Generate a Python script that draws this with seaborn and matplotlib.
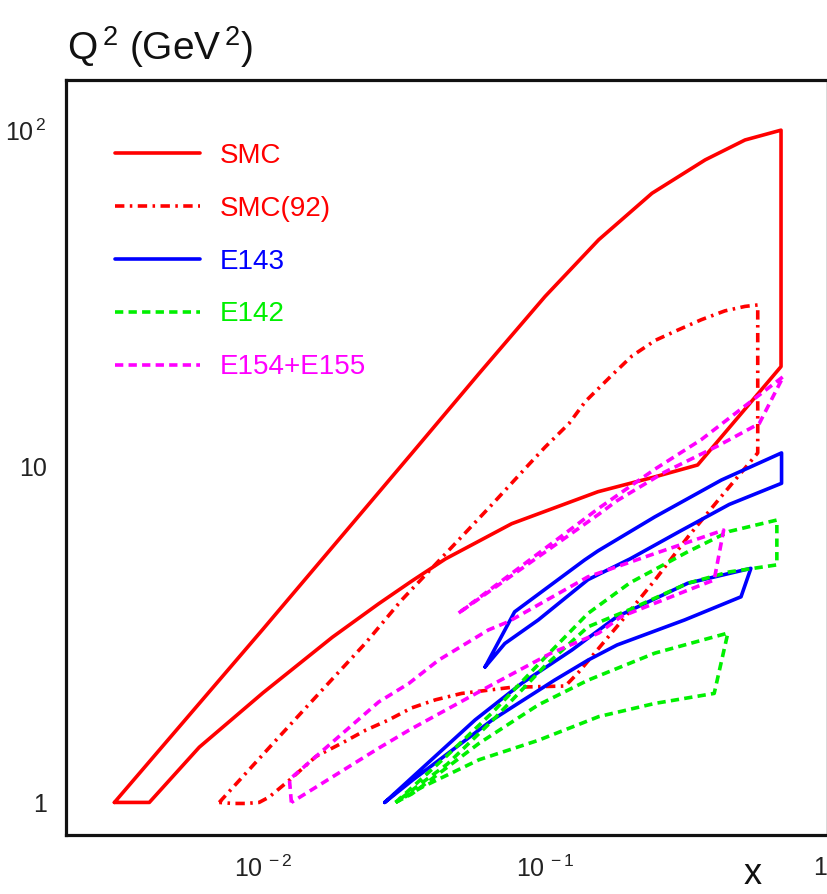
import numpy as np
import pandas as pd
import matplotlib
matplotlib.use("Agg")
import matplotlib.pyplot as plt
from matplotlib.ticker import LogLocator, NullFormatter
import seaborn as sns

# ---------------- data (x, Q^2 in GeV^2) ----------------
# SMC (solid red) - one closed region
smc_x = [0.00297, 0.01, 0.0336, 0.0584, 0.1, 0.155, 0.2395, 0.37, 0.512, 0.687,
         0.687, 0.3477, 0.245, 0.154, 0.0762, 0.0443, 0.0336, 0.0257, 0.0176,
         0.01, 0.00594, 0.00395, 0.00297]
smc_q2 = [1.0, 3.28, 10.9, 18.9, 32.0, 47.2, 64.9, 81.6, 93.5, 100.0,
          19.8, 10.09, 9.3, 8.4, 6.75, 5.3, 4.55, 3.9, 3.1,
          2.12, 1.46, 1.0, 1.0]

# SMC(92) (red dash-dot)
smc92_x = [0.00699, 0.0111, 0.0162, 0.0231, 0.031, 0.0482, 0.0646, 0.0873, 0.1,
           0.1216, 0.1391, 0.173, 0.2035, 0.2461, 0.298, 0.3585, 0.4343, 0.512, 0.568,
           0.568, 0.42, 0.321, 0.2455, 0.192, 0.131, 0.118,
           0.076, 0.0506, 0.0409, 0.0336, 0.0279, 0.0231, 0.019, 0.0154, 0.0124,
           0.0105, 0.00968, 0.0087, 0.0078, 0.00699]
smc92_q2 = [1.0, 1.53, 2.16, 2.98, 4.0, 5.91, 7.67, 10.09, 11.4,
            13.4, 15.6, 18.7, 21.3, 23.7, 25.5, 27.3, 29.0, 29.9, 30.2,
            10.96, 8.1, 6.16, 4.59, 3.56, 2.43, 2.22,
            2.2, 2.11, 2.02, 1.91, 1.76, 1.64, 1.50, 1.37, 1.165,
            1.037, 1.0, 0.993, 0.993, 1.0]

# E143 (solid blue) - two regions
e143a_x = [0.0613, 0.078, 0.138, 0.154, 0.245, 0.422, 0.69,
           0.69, 0.45, 0.3, 0.2, 0.142, 0.0946, 0.072, 0.0613]
e143a_q2 = [2.53, 3.69, 5.26, 5.6, 7.07, 9.1, 10.96,
            8.9, 7.7, 6.4, 5.3, 4.6, 3.49, 2.97, 2.53]
e143b_x = [0.027, 0.0565, 0.0826, 0.1245, 0.18, 0.321, 0.537,
           0.4955, 0.3125, 0.18, 0.142, 0.108, 0.065, 0.0339, 0.027]
e143b_q2 = [1.0, 1.76, 2.26, 2.84, 3.57, 4.49, 4.97,
            4.09, 3.49, 2.94, 2.65, 2.31, 1.76, 1.165, 1.0]

# E142 (green dashed) - two regions
e142a_x = [0.0295, 0.045, 0.065, 0.1, 0.142, 0.2, 0.321, 0.45, 0.664,
           0.664, 0.45, 0.321, 0.2, 0.142, 0.1, 0.065, 0.045, 0.0295]
e142a_q2 = [1.0, 1.38, 1.85, 2.7, 3.65, 4.5, 5.57, 6.4, 6.92,
            5.09, 4.85, 4.49, 3.75, 3.33, 2.55, 1.75, 1.3, 1.0]
e142b_x = [0.0295, 0.0337, 0.0584, 0.0946, 0.142, 0.245, 0.445,
           0.398, 0.245, 0.155, 0.0946, 0.0584, 0.0366, 0.0295]
e142b_q2 = [1.0, 1.06, 1.5, 1.95, 2.31, 2.78, 3.19,
            2.11, 1.97, 1.8, 1.53, 1.34, 1.11, 1.0]

# E154+E155 (magenta dashed) - two regions
e155_x = [0.0494, 0.155, 0.245, 0.358, 0.48, 0.70,
          0.575, 0.41, 0.265, 0.18, 0.155, 0.0494]
e155_q2 = [3.66, 7.5, 9.8, 12.0, 14.5, 18.5,
           13.4, 11.5, 9.6, 7.9, 7.2, 3.66]
e154_x = [0.0126, 0.0124, 0.0257, 0.0329, 0.0419, 0.063, 0.0742, 0.142, 0.245, 0.43,
          0.398, 0.321, 0.186, 0.155, 0.105, 0.063, 0.0329, 0.0257, 0.0126]
e154_q2 = [1.0, 1.17, 1.99, 2.26, 2.65, 3.26, 3.45, 4.69, 5.5, 6.46,
           4.59, 4.28, 3.57, 3.19, 2.78, 2.21, 1.64, 1.45, 1.0]

x_ticks = [0.01, 0.1, 1.0]
x_tick_labels = ["10$^{\\,-2}$", "10$^{\\,-1}$", "1"]
y_ticks = [1, 10, 100]
y_tick_labels = ["1", "10", "10$^{\\,2}$"]

# ---------------- style ----------------
sns.set_style("white")
plt.rcParams["font.family"] = ["Liberation Sans", "DejaVu Sans"]
plt.rcParams["mathtext.default"] = "regular"

RED, BLUE, GREEN, MAGENTA = "#ff0000", "#0000ff", "#00f000", "#ff00ff"
SOLID = "-"
DASHDOT = (0, (2.6, 1.5, 0.7, 1.5))
DASHED = (0, (2.3, 1.45))

series = [
    ("SMC", smc_x, smc_q2, RED, SOLID),
    ("SMC(92)", smc92_x, smc92_q2, RED, DASHDOT),
    ("E143", e143a_x, e143a_q2, BLUE, SOLID),
    ("_nolegend_", e143b_x, e143b_q2, BLUE, SOLID),
    ("E142", e142a_x, e142a_q2, GREEN, DASHED),
    ("_nolegend_", e142b_x, e142b_q2, GREEN, DASHED),
    ("E154+E155", e155_x, e155_q2, MAGENTA, DASHED),
    ("_nolegend_", e154_x, e154_q2, MAGENTA, DASHED),
]

fig = plt.figure(figsize=(8.28, 8.94), dpi=100)
ax = fig.add_axes([66 / 828, 59 / 894, 761 / 828, 755 / 894])
ax.set_xscale("log")
ax.set_yscale("log")

for label, xs, ys, col, ls in series:
    df = pd.DataFrame({"x": xs, "Q2": ys})
    sns.lineplot(data=df, x="x", y="Q2", sort=False, estimator=None,
                 color=col, linestyle=ls, lw=2.6, label=label, ax=ax, legend=False)

ax.set_xlim(0.002, 1.0)
ax.set_ylim(0.8, 141)
ax.set_xlabel("")
ax.set_ylabel("")

ax.set_xticks(x_ticks)
ax.set_xticklabels(x_tick_labels)
ax.set_yticks(y_ticks)
ax.set_yticklabels(y_tick_labels)
ax.get_xticklabels()[-1].set_horizontalalignment("right")
for axis in (ax.xaxis, ax.yaxis):
    axis.set_minor_locator(LogLocator(base=10, subs=np.arange(2, 10), numticks=30))
    axis.set_minor_formatter(NullFormatter())

ax.tick_params(which="both", direction="in", top=False, right=False,
               width=1.2, color="#222222", labelcolor="#222222")
ax.tick_params(which="major", length=14.5, labelsize=18)
ax.tick_params(which="minor", length=7.5)
ax.tick_params(axis="y", which="major", pad=14)
ax.tick_params(axis="x", which="major", pad=15)

for side in ("left", "bottom", "top"):
    ax.spines[side].set_linewidth(2.3)
    ax.spines[side].set_color("#111111")
ax.spines["right"].set_linewidth(1.0)
ax.spines["right"].set_color("#444444")

leg = ax.legend(loc="upper left", bbox_to_anchor=(0.0643, 0.917), frameon=False,
                fontsize=20, handlelength=3.06, handletextpad=0.72,
                labelspacing=0.97, borderaxespad=0, borderpad=0,
                labelcolor="linecolor")

fig.text(67 / 828, (894 - 60) / 894, "Q$^{\\,2}$ (GeV$^{\\,2}$)", fontsize=28,
         ha="left", va="baseline", color="#111111")
fig.text(753 / 828, 2 / 894, "x", fontsize=26, ha="center", va="bottom",
         color="#111111")

fig.savefig("out.png", dpi=100)
